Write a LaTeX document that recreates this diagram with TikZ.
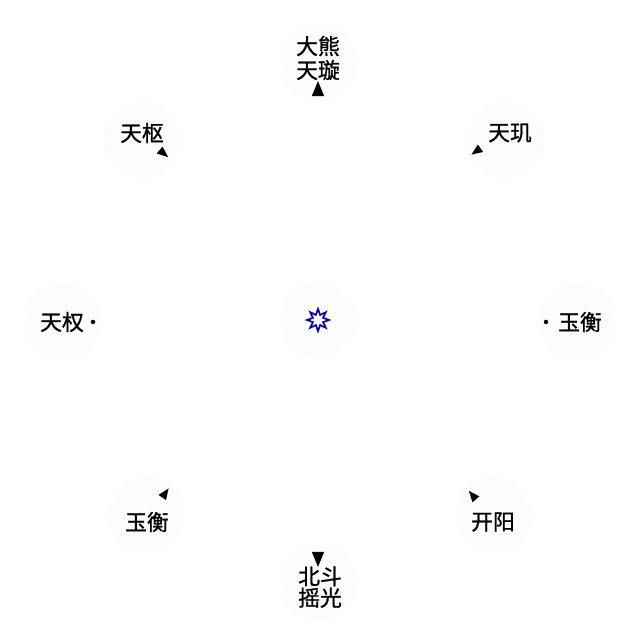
\documentclass[tikz,border=0pt]{standalone}
\usepackage{fontspec}
\newfontfamily\cjk{Noto Sans CJK SC}[FakeBold=1]
\usetikzlibrary{shapes.geometric}

\begin{document}
\begin{tikzpicture}[x=0.025cm, y=0.025cm,
    starname/.style={font=\cjk\fontsize{15.5}{17}\selectfont, align=center, inner sep=1pt},
    halo/.style={circle, fill=black!1, minimum size=76*0.025cm},
    tipmark/.style={isosceles triangle, fill=black, inner sep=0pt, minimum height=11*0.025cm, minimum width=8*0.025cm, isosceles triangle apex angle=45},
    dotmark/.style={circle, fill=black, inner sep=0pt, minimum size=4.5*0.025cm}]

    \useasboundingbox (0,0) rectangle (640,640);

    % faint discs behind the names
    \foreach \p in {(318,578), (142,500), (506,500), (62,318), (578,318), (147,125), (493,125), (318,58), (318,320)}
        \node[halo] at \p {};

    % centre
    \node[star, star points=8, star point ratio=2, draw=blue!75!black, very thick, fill=white, inner sep=0pt, minimum size=22*0.025cm] (pole) at (318,320) {};

    % names
    \node[starname] (tianxuan) at (318,582) {大熊\\天璇};
    \node[starname] (tianshu) at (142,507) {天枢};
    \node[starname] (tianji) at (510,507) {天玑};
    \node[starname] (tianquan) at (62,318) {天权};
    \node[starname] (yuhengr) at (580,318) {玉衡};
    \node[starname] (yuhengl) at (147,118) {玉衡};
    \node[starname] (kaiyang) at (493,118) {开阳};
    \node[starname, font=\cjk\fontsize{15.5}{14}\selectfont] (yaoguang) at (320,53) {北斗\\摇光};

    % pointers
    \node[tipmark, minimum height=15*0.025cm, rotate=90] (ptxuan) at (318,548) {};
    \node[tipmark, rotate=-40] (ptshu) at (162,488) {};
    \node[tipmark, rotate=-145] (ptji) at (478,490) {};
    \node[dotmark] (ptquan) at (93,318) {};
    \node[dotmark] (pthengr) at (546,318) {};
    \node[tipmark, rotate=55] (pthengl) at (164,145) {};
    \node[tipmark, rotate=130] (ptkai) at (474,143) {};
    \node[tipmark, minimum height=15*0.025cm, rotate=-90] (ptyao) at (318,84) {};

\end{tikzpicture}
\end{document}
